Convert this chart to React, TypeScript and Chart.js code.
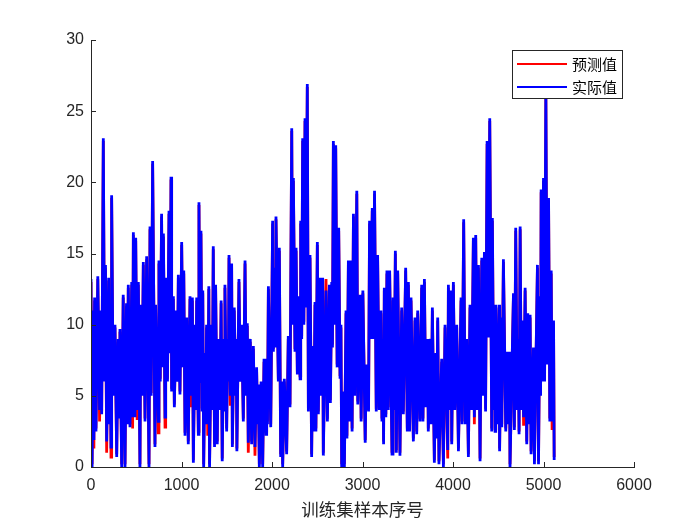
import React, { useEffect, useRef } from 'react';
import Chart from 'chart.js/auto';

// sample numbers (downsampled) and the two series
const sampleNo = [
  0, 12, 26, 32, 40, 55, 75, 95, 110, 118,
  136, 150, 160, 173, 195, 205, 212, 221, 228, 245,
  265, 284, 300, 310, 320, 339, 356, 376, 392, 400,
  412, 431, 450, 460, 468, 486, 494, 510, 523, 541,
  550, 565, 578, 597, 615, 641, 652, 665, 681, 707,
  714, 744, 751, 765, 780, 790, 800, 818, 825, 845,
  862, 875, 884, 891, 910, 921, 940, 955, 965, 983,
  1002, 1015, 1025, 1039, 1058, 1075, 1094, 1110, 1120, 1131,
  1150, 1158, 1168, 1186, 1193, 1205, 1215, 1228, 1235, 1245,
  1260, 1268, 1277, 1290, 1302, 1310, 1330, 1340, 1351, 1365,
  1377, 1395, 1407, 1425, 1438, 1450, 1465, 1472, 1480, 1499,
  1510, 1518, 1525, 1540, 1554, 1562, 1583, 1597, 1605, 1612,
  1635, 1650, 1665, 1683, 1702, 1715, 1727, 1738, 1760, 1775,
  1794, 1812, 1830, 1840, 1849, 1860, 1880, 1897, 1912, 1934,
  1941, 1950, 1960, 1986, 2007, 2015, 2030, 2037, 2044, 2070,
  2081, 2096, 2107, 2118, 2136, 2162, 2180, 2199, 2218, 2227,
  2236, 2254, 2266, 2280, 2291, 2310, 2317, 2328, 2339, 2352,
  2365, 2375, 2390, 2402, 2420, 2438, 2449, 2462, 2475, 2485,
  2501, 2512, 2530, 2545, 2560, 2567, 2597, 2612, 2634, 2645,
  2660, 2668, 2678, 2696, 2704, 2720, 2737, 2752, 2762, 2770,
  2781, 2800, 2818, 2828, 2844, 2855, 2870, 2885, 2900, 2915,
  2937, 2948, 2974, 2985, 3004, 3030, 3041, 3067, 3078, 3090,
  3108, 3118, 3133, 3152, 3167, 3185, 3204, 3215, 3225, 3233,
  3241, 3258, 3270, 3285, 3300, 3326, 3337, 3350, 3363, 3374,
  3389, 3414, 3433, 3451, 3477, 3495, 3507, 3520, 3536, 3562,
  3580, 3599, 3610, 3635, 3654, 3668, 3684, 3698, 3720, 3727,
  3750, 3760, 3772, 3794, 3810, 3820, 3831, 3845, 3875, 3894,
  3912, 3942, 3949, 3965, 3978, 3986, 4004, 4020, 4041, 4060,
  4089, 4100, 4118, 4135, 4151, 4170, 4188, 4205, 4225, 4236,
  4251, 4265, 4281, 4299, 4318, 4330, 4347, 4360, 4377, 4391,
  4406, 4428, 4435, 4450, 4460, 4465, 4472, 4490, 4509, 4515,
  4531, 4539, 4557, 4583, 4594, 4610, 4624, 4630, 4668, 4678,
  4693, 4710, 4720, 4730, 4742, 4755, 4767, 4780, 4797, 4815,
  4826, 4840, 4852, 4863, 4889, 4900, 4933, 4945, 4960, 4968,
  4974, 4988, 5000, 5012, 5026, 5040, 5056, 5070, 5085, 5095, 5111, 5118,
];

const actual = [
  13.2, 0, 11.0, 1.9, 11.9, 2.5, 13.4, 4.0, 11.0, 3.7,
  23.1, 6.0, 14.2, 1.8, 13.3, 3.0, 9.0, 1.4, 19.1, 5.0,
  10.0, 0.7, 9.0, 3.5, 9.7, 0, 12.1, 0, 11.5, 3.0,
  12.8, 2.8, 13.0, 3.5, 16.5, 3.5, 16.1, 4.0, 13.0, 0,
  11.4, 5.0, 14.4, 3.2, 14.8, 0, 16.9, 5.0, 21.5, 1.4,
  11.4, 3.2, 14.5, 6.0, 17.8, 7.0, 16.4, 3.5, 13.3, 6.0,
  18.0, 8.0, 20.4, 5.3, 12.0, 4.2, 11.0, 6.0, 13.5, 5.1,
  15.8, 7.0, 13.8, 2.2, 10.5, 1.6, 12.0, 5.0, 11.9, 0.3,
  10.0, 4.0, 11.9, 2.3, 18.6, 6.0, 16.6, 4.0, 12.4, 0,
  8.0, 3.0, 10.0, 3.0, 12.7, 0, 10.0, 4.0, 15.5, 1.4,
  12.8, 1.6, 9.0, 4.0, 11.7, 0.4, 9.0, 4.0, 12.8, 2.5,
  9.0, 6.0, 14.9, 5.0, 14.3, 1.4, 11.2, 5.0, 9.0, 1.1,
  13.2, 6.0, 10.0, 3.2, 14.5, 5.0, 10.1, 1.7, 9.0, 1.6,
  8.5, 1.4, 7.0, 3.0, 5.8, 0, 6.0, 0, 7.6, 2.3,
  7.6, 3.0, 12.7, 2.8, 17.3, 8.1, 14.0, 8.5, 17.6, 6.0,
  15.4, 0.7, 6.0, 0, 6.2, 0.9, 9.2, 4.2, 23.8, 10.0,
  20.3, 8.1, 15.4, 6.5, 12.0, 6.2, 17.3, 9.0, 23.1, 10.0,
  24.5, 11.2, 26.9, 3.9, 14.9, 0.7, 8.5, 2.5, 11.6, 2.5,
  15.8, 3.7, 13.3, 5.0, 13.3, 0.8, 12.4, 3.2, 12.8, 4.5,
  13.0, 8.4, 22.9, 10.0, 22.6, 7.0, 16.8, 6.3, 10.0, 0,
  5.3, 0, 11.0, 2.0, 14.5, 3.2, 14.5, 2.5, 17.8, 5.0,
  19.4, 4.4, 12.1, 3.2, 12.4, 1.7, 7.2, 3.9, 17.3, 9.0,
  18.2, 9.0, 19.4, 3.9, 14.9, 4.0, 11.0, 3.2, 9.0, 1.6,
  12.6, 3.5, 13.8, 4.0, 13.8, 0.9, 11.9, 4.0, 15.2, 1.0,
  13.8, 0.8, 11.2, 3.7, 14.0, 2.5, 13.0, 2.5, 11.9, 1.8,
  10.5, 2.3, 11.0, 3.2, 12.8, 3.2, 13.2, 4.2, 9.0, 2.5,
  9.0, 3.0, 11.2, 0.3, 8.0, 2.0, 10.5, 0.2, 7.6, 0,
  10.0, 1.2, 12.8, 4.0, 12.4, 1.6, 13.0, 4.0, 10.0, 1.1,
  11.9, 3.0, 17.4, 3.0, 9.0, 0.7, 11.4, 4.0, 16.1, 3.5,
  16.3, 4.0, 14.2, 0.4, 14.7, 5.0, 15.1, 3.9, 22.9, 9.1,
  24.5, 2.5, 17.5, 4.0, 10.0, 2.5, 11.4, 3.0, 11.4, 1.1,
  10.5, 2.8, 14.6, 2.5, 8.1, 3.0, 8.1, 0, 12.2, 2.6,
  16.8, 4.0, 9.0, 2.3, 16.9, 4.0, 10.3, 3.5, 12.6, 1.6,
  10.8, 3.0, 10.7, 0.9, 8.4, 0.2, 14.2, 0.2, 12.0, 5.0,
  19.5, 6.0, 20.3, 6.0, 26.5, 7.2, 18.9, 3.2, 13.8, 3.2, 10.3, 0.5,
];

const predicted = [
  13.0, 0.2, 10.8, 1.3, 11.7, 2.7, 13.2, 3.2, 10.8, 3.9,
  22.9, 6.2, 14.0, 1.0, 13.1, 3.2, 8.8, 0.7, 18.9, 5.2,
  9.8, 0.9, 8.8, 3.7, 9.5, 0.2, 11.9, 0.2, 11.3, 3.2,
  12.6, 3.0, 12.8, 2.7, 16.3, 3.7, 15.9, 3.3, 12.8, 0.2,
  11.2, 5.2, 14.2, 3.4, 14.6, 0.2, 16.7, 5.2, 21.3, 1.6,
  11.2, 2.4, 14.3, 6.2, 17.6, 7.2, 16.2, 2.8, 13.1, 6.2,
  17.8, 8.2, 20.2, 5.5, 11.8, 4.4, 10.8, 6.2, 13.3, 5.3,
  15.6, 7.2, 13.6, 2.4, 10.3, 1.8, 11.8, 4.2, 11.7, 0.5,
  9.8, 4.2, 11.7, 2.5, 18.4, 6.2, 16.4, 4.2, 12.2, 0.2,
  7.8, 3.2, 9.8, 2.2, 12.5, 0.2, 9.8, 4.2, 15.3, 1.6,
  12.6, 1.8, 8.8, 4.2, 11.5, 0.6, 8.8, 4.2, 12.6, 2.7,
  8.8, 6.2, 14.7, 4.3, 14.1, 1.6, 11.0, 5.2, 8.8, 1.3,
  13.0, 6.2, 9.8, 3.4, 14.3, 5.2, 9.9, 1.0, 8.8, 1.8,
  8.3, 0.8, 6.8, 3.2, 5.6, 0.2, 5.8, 0.2, 7.4, 2.5,
  7.4, 3.2, 12.5, 3.0, 17.1, 8.3, 13.8, 8.7, 17.4, 6.2,
  15.2, 0.9, 5.8, 0.2, 6.0, 1.1, 9.0, 4.4, 23.6, 10.2,
  20.1, 8.3, 15.2, 6.7, 11.8, 6.4, 17.1, 9.2, 22.9, 10.2,
  24.3, 11.4, 26.7, 4.1, 14.7, 0.9, 8.3, 2.7, 11.4, 2.7,
  15.6, 3.9, 13.1, 5.2, 13.1, 1.0, 13.2, 3.4, 12.6, 4.7,
  12.8, 8.6, 22.7, 10.2, 22.4, 7.2, 16.6, 6.5, 9.8, 0.2,
  5.1, 0.2, 10.8, 2.2, 14.3, 3.4, 14.3, 2.7, 17.6, 5.2,
  19.2, 4.6, 11.9, 3.4, 12.2, 1.9, 7.0, 4.1, 17.1, 9.2,
  18.0, 9.2, 19.2, 4.1, 14.7, 4.2, 10.8, 3.4, 8.8, 1.8,
  12.4, 3.7, 13.6, 4.2, 13.6, 1.1, 11.7, 4.2, 15.0, 1.2,
  13.6, 1.0, 11.0, 3.9, 13.8, 2.7, 12.8, 2.7, 11.7, 2.0,
  10.3, 2.5, 10.8, 3.4, 12.6, 3.4, 13.0, 4.4, 8.8, 2.7,
  8.8, 3.2, 11.0, 0.5, 7.8, 2.2, 10.3, 0.4, 7.4, 0.2,
  9.8, 0.6, 12.6, 4.2, 12.2, 1.8, 12.8, 4.2, 9.8, 1.3,
  11.7, 3.2, 17.2, 3.2, 8.8, 0.9, 11.2, 4.2, 15.9, 3.0,
  16.1, 4.2, 14.0, 0.6, 14.5, 5.2, 14.9, 4.1, 22.7, 9.3,
  24.3, 2.7, 17.3, 4.2, 9.8, 2.7, 11.2, 3.2, 11.2, 1.3,
  10.3, 3.0, 14.4, 2.7, 7.9, 3.2, 7.9, 0.2, 12.0, 2.8,
  16.6, 4.2, 8.8, 2.5, 16.7, 4.2, 10.1, 2.9, 12.4, 1.8,
  10.6, 3.2, 10.5, 1.1, 8.2, 0.4, 14.0, 0.4, 11.8, 5.2,
  19.3, 6.2, 20.1, 6.2, 26.3, 7.4, 18.7, 3.4, 13.6, 2.6, 10.1, 0.7,
];

const xTicks = [0, 1000, 2000, 3000, 4000, 5000, 6000];
const yTicks = [0, 5, 10, 15, 20, 25, 30];
const legendLabels = ['预测值', '实际值'];
const xTitle = '训练集样本序号';

const INK = '#262626';
const RED = '#ff0000';
const BLUE = '#0000ff';

export default function App() {
  const canvasRef = useRef<HTMLCanvasElement | null>(null);

  useEffect(() => {
    document.body.style.margin = '0';
    const ctx = canvasRef.current?.getContext('2d');
    if (!ctx) return;

    // MATLAB-style axes: left + bottom lines with inward ticks, drawn over the data
    const axesOnTop = {
      id: 'axesOnTop',
      afterDatasetsDraw(chart: any) {
        const { ctx: c, chartArea: a, scales } = chart;
        c.save();
        c.strokeStyle = INK;
        c.lineWidth = 1;
        c.beginPath();
        c.moveTo(a.left + 0.5, a.top);
        c.lineTo(a.left + 0.5, a.bottom + 0.5);
        c.lineTo(a.right, a.bottom + 0.5);
        xTicks.forEach(v => {
          const px = Math.round(scales.x.getPixelForValue(v)) + 0.5;
          c.moveTo(px, a.bottom);
          c.lineTo(px, a.bottom - 5);
        });
        yTicks.forEach(v => {
          const py = Math.round(scales.y.getPixelForValue(v)) + 0.5;
          c.moveTo(a.left, py);
          c.lineTo(a.left + 5, py);
        });
        c.stroke();
        c.restore();
      },
    };

    const boxLegend = {
      id: 'boxLegend',
      afterDraw(chart: any) {
        const c = chart.ctx;
        const x0 = 512.5, y0 = 50.5, w = 110, h = 48;
        c.save();
        c.fillStyle = '#ffffff';
        c.fillRect(x0, y0, w, h);
        c.strokeStyle = INK;
        c.lineWidth = 1;
        c.strokeRect(x0, y0, w, h);
        const rows = [
          { label: legendLabels[0], color: RED, y: 64 },
          { label: legendLabels[1], color: BLUE, y: 87 },
        ];
        c.font = '15px "Noto Sans CJK SC"';
        c.textBaseline = 'middle';
        rows.forEach(r => {
          c.strokeStyle = r.color;
          c.lineWidth = 2;
          c.beginPath();
          c.moveTo(517, r.y);
          c.lineTo(567, r.y);
          c.stroke();
          c.fillStyle = '#000000';
          c.fillText(r.label, 572, r.y);
        });
        c.restore();
      },
    };

    const chart = new Chart(ctx, {
      type: 'line',
      data: {
        datasets: [
          {
            label: legendLabels[1],
            data: sampleNo.map((x, i) => ({ x, y: actual[i] })),
            borderColor: BLUE,
            borderWidth: 2.8,
            pointRadius: 0,
            tension: 0,
            order: 0,
          },
          {
            label: legendLabels[0],
            data: sampleNo.map((x, i) => ({ x, y: predicted[i] })),
            borderColor: RED,
            borderWidth: 2.8,
            pointRadius: 0,
            tension: 0,
            order: 1,
          },
        ],
      },
      options: {
        animation: false,
        responsive: false,
        events: [],
        layout: { padding: { top: 40, right: 66, left: 0, bottom: 0 } },
        plugins: { legend: { display: false }, tooltip: { enabled: false } },
        scales: {
          x: {
            type: 'linear',
            min: 0,
            max: 6000,
            afterBuildTicks: (s: any) => { s.ticks = xTicks.map(v => ({ value: v })); },
            afterFit: (s: any) => { s.height = 58; },
            grid: { display: false, drawTicks: false },
            border: { display: true, color: INK },
            ticks: {
              color: INK,
              padding: 9,
              maxRotation: 0,
              callback: (v: any) => String(v),
              font: { family: '"Liberation Sans", Arial', size: 16 },
            },
            title: {
              display: true,
              text: xTitle,
              color: INK,
              // for a bottom axis the bottom padding lifts the title off the canvas edge
              padding: { top: 4, bottom: 5 },
              font: { family: '"Noto Sans CJK SC"', size: 17.5 },
            },
          },
          y: {
            type: 'linear',
            min: 0,
            max: 30,
            afterBuildTicks: (s: any) => { s.ticks = yTicks.map(v => ({ value: v })); },
            afterFit: (s: any) => { s.width = 91; },
            grid: { display: false, drawTicks: false },
            border: { display: true, color: INK },
            ticks: {
              color: INK,
              padding: 7,
              callback: (v: any) => String(v),
              font: { family: '"Liberation Sans", Arial', size: 16 },
            },
          },
        },
      },
      plugins: [axesOnTop, boxLegend],
    });

    return () => chart.destroy();
  }, []);

  return (
    <div style={{ width: 700, height: 525, background: '#ffffff' }}>
      <canvas ref={canvasRef} width={700} height={525} style={{ display: 'block', width: 700, height: 525 }} />
    </div>
  );
}
